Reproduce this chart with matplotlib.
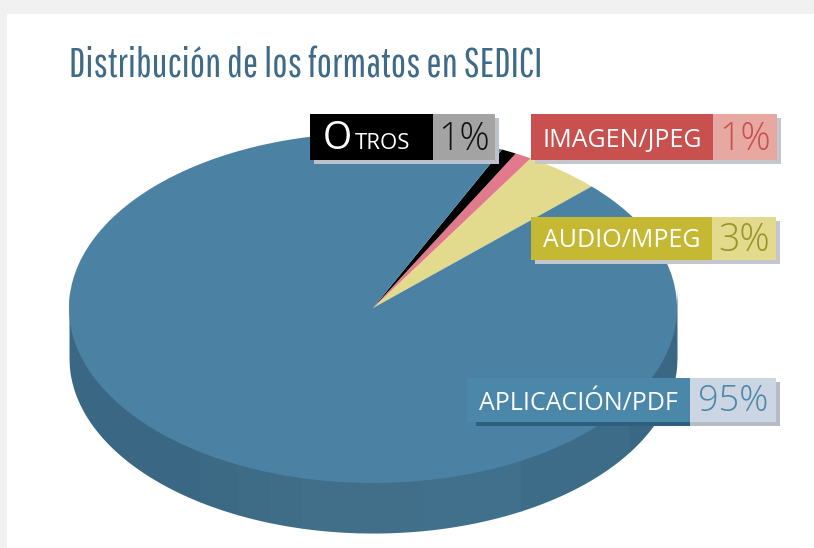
import matplotlib
matplotlib.use("Agg")
import matplotlib.pyplot as plt
from matplotlib.patches import Rectangle
import numpy as np

W, H = 814, 548
title = "Distribución de los formatos en SEDICI"
categories = ["APLICACIÓN/PDF", "AUDIO/MPEG", "IMAGEN/JPEG", "OTROS"]
label_values = ["95%", "3%", "1%", "1%"]
slice_names = ["AUDIO/MPEG", "IMAGEN/JPEG", "OTROS", "APLICACIÓN/PDF"]
slice_shares = [4.1, 0.9, 0.8, 94.2]
slice_colors = ["#e2da8c", "#e17a8c", "#000000", "#4b82a3"]
start_angle = 44
TITLE_FONT = ["Pathway Gothic One", "Open Sans", "DejaVu Sans"]
LABEL_FONT = "Open Sans"

fig = plt.figure(figsize=(W/100, H/100), dpi=100, facecolor="#f1f1f1")
bg = fig.add_axes([0, 0, 1, 1])
bg.set_xlim(0, W); bg.set_ylim(H, 0); bg.axis("off")
bg.add_patch(Rectangle((7, 14), W, H, fc="white", ec="none"))

def px_axes(x0, y0, x1, y1, z):
    return fig.add_axes([x0/W, 1-y1/H, (x1-x0)/W, (y1-y0)/H], zorder=z)

ax = px_axes(69, 133, 677, 483, 2)
depth = 0.286
side_cols = ["#3a6884", "#3c6a85", "#3e6b86", "#3f6c87", "#416e88", "#416f8a", "#40708c", "#3d6c88", "#3a6884"]
edges = np.array([-1, -0.569, -0.444, -0.339, -0.234, -0.049, 0.164, 0.487, 0.845, 1.0])
xs = np.linspace(-1, 1, 1601)
yb = -np.sqrt(np.clip(1-xs**2, 0, 1))
for i, c in enumerate(side_cols):
    m = (xs >= edges[i]-0.002) & (xs <= edges[i+1]+0.002)
    ax.fill_between(xs[m], yb[m]-depth, yb[m]+0.1, color=c, lw=0, zorder=1)
ax.pie(slice_shares, colors=slice_colors, startangle=start_angle, radius=1,
       wedgeprops=dict(lw=0, zorder=3))
ax.set_aspect("auto")
ax.set_xlim(-1, 1); ax.set_ylim(-1, 1)
ax.axis("off")
for p in ax.patches + ax.collections:
    p.set_clip_on(False)

fg = fig.add_axes([0, 0, 1, 1], zorder=5)
fg.set_xlim(0, W); fg.set_ylim(H, 0); fg.axis("off"); fg.patch.set_alpha(0)
fg.text(69, 77, title, fontsize=29.2, family=TITLE_FONT, color="#3f6b88", ha="left", va="baseline")

labels = [
    dict(i=0, x0=467, x1=690, x2=776, y0=378, y1=422, c="#4b87a8", pc="#ccd6e2", vc="#4b87a8", sh="#b4bcc6", vfs=26, bl=410, vbl=411),
    dict(i=1, x0=531, x1=712, x2=776, y0=217, y1=260, c="#c5b933", pc="#e2da8c", vc="#9a9325", sh="#c3c6cc", vfs=27, bl=247, vbl=251),
    dict(i=2, x0=531, x1=713, x2=777, y0=114, y1=160, c="#c8504f", pc="#e6a8a0", vc="#c8504f", sh="#c3c6cc", vfs=27, bl=147, vbl=150),
    dict(i=3, x0=310, x1=433, x2=495, y0=114, y1=160, c="#000000", pc="#a3a3a3", vc="#111111", sh="#bcc2ca", vfs=27, bl=149, vbl=150),
]
for L in labels:
    name = categories[L["i"]]
    sx = L["x0"] + (9 if name.startswith("APL") else 4)
    fg.add_patch(Rectangle((sx, L["y0"]+4), L["x2"]+4-sx, L["y1"]-L["y0"], fc=L["sh"], ec="none"))
    if name.startswith("APL"):
        fg.add_patch(Rectangle((sx, L["y1"]), L["x1"]-sx, 4, fc="#2f5f7e", ec="none"))
    fg.add_patch(Rectangle((L["x0"], L["y0"]), L["x1"]-L["x0"], L["y1"]-L["y0"], fc=L["c"], ec="none"))
    fg.add_patch(Rectangle((L["x1"], L["y0"]), L["x2"]-L["x1"], L["y1"]-L["y0"], fc=L["pc"], ec="none"))
    if name == "OTROS":
        fg.text(323, L["bl"], name[0], fontsize=27, family=LABEL_FONT, color="white", ha="left", va="baseline")
        fg.text(355, L["bl"], name[1:], fontsize=16, family=LABEL_FONT, color="white", ha="left", va="baseline")
    else:
        fg.text((L["x0"]+L["x1"])/2, L["bl"], name, fontsize=18, family=LABEL_FONT, color="white", ha="center", va="baseline")
    fg.text((L["x1"]+L["x2"])/2, L["vbl"], label_values[L["i"]], fontsize=L["vfs"], family=LABEL_FONT, weight=300,
            color=L["vc"], ha="center", va="baseline")

fig.savefig("out.png", dpi=100, facecolor=fig.get_facecolor())
